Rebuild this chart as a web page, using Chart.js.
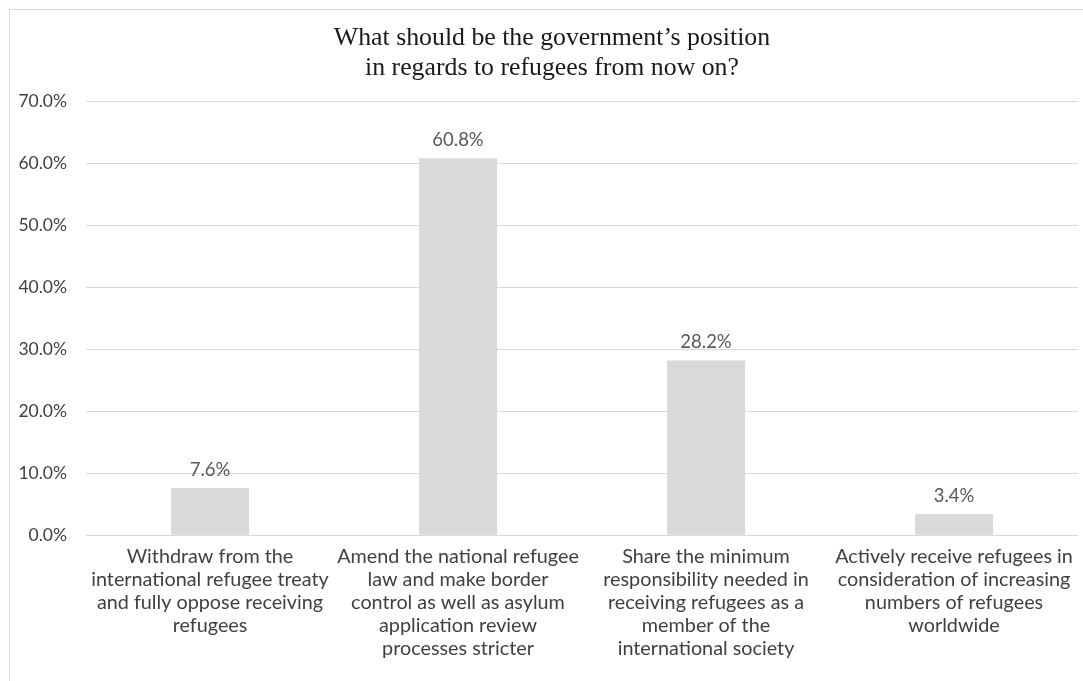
<!DOCTYPE html>
<html>
<head>
<meta charset="utf-8">
<script src="https://cdn.jsdelivr.net/npm/chart.js@4"></script>
<style>
  html, body { margin: 0; padding: 0; background: #fff; overflow: hidden; }
  #wrap { position: absolute; left: 0; top: 0; width: 1104px; height: 681px; }
</style>
</head>
<body>
<div id="wrap"><canvas id="refugeeChart"></canvas></div>
<script>
// Survey answers (x axis)
const categories = [
    ['Withdraw from the', 'international refugee treaty', 'and fully oppose receiving', 'refugees'],
    ['Amend the national refugee', 'law and make border', 'control as well as asylum', 'application review', 'processes stricter'],
    ['Share the minimum', 'responsibility needed in', 'receiving refugees as a', 'member of the', 'international society'],
    ['Actively receive refugees in', 'consideration of increasing', 'numbers of refugees', 'worldwide']
];
// Share of respondents, percent
const shares = [7.6, 60.8, 28.2, 3.4];
const titleLines = ['What should be the government\u2019s position', 'in regards to refugees from now on?'];
const yMin = 0;
const yMax = 70;
const yStep = 10;

// white background + the thin frame round the chart
const framePlugin = {
    id: 'frame',
    beforeDraw: function(chart) {
        const ctx = chart.ctx;
        ctx.save();
        ctx.fillStyle = '#ffffff';
        ctx.fillRect(0, 0, chart.width, chart.height);
        ctx.strokeStyle = '#d9d9d9';
        ctx.lineWidth = 1;
        ctx.strokeRect(9.5, 9.5, chart.width, chart.height);
        ctx.restore();
    }
};

// value labels above each bar
const valueLabels = {
    id: 'valueLabels',
    afterDatasetsDraw: function(chart) {
        const ctx = chart.ctx;
        const meta = chart.getDatasetMeta(0);
        ctx.save();
        ctx.font = '18.5px Lato, "Open Sans", sans-serif';
        ctx.fillStyle = '#595959';
        ctx.textAlign = 'center';
        ctx.textBaseline = 'middle';
        meta.data.forEach(function(bar, i) {
            ctx.fillText(shares[i].toFixed(1) + '%', bar.x, bar.y - 18);
        });
        ctx.restore();
    }
};

const ctx = document.getElementById('refugeeChart').getContext('2d');
new Chart(ctx, {
    type: 'bar',
    data: {
        labels: categories,
        datasets: [{
            data: shares,
            backgroundColor: '#d9d9d9',
            borderWidth: 0,
            categoryPercentage: 1,
            barPercentage: 0.315
        }]
    },
    options: {
        responsive: true,
        maintainAspectRatio: false,
        animation: false,
        layout: {
            padding: { left: 0, right: 0, top: 12, bottom: 19 }
        },
        plugins: {
            legend: { display: false },
            tooltip: { enabled: false },
            title: {
                display: true,
                text: titleLines,
                color: '#1a1a1a',
                font: { family: '"Liberation Serif", "Times New Roman", serif', size: 25.8, weight: 'normal', lineHeight: 1.13 },
                padding: { top: 12, bottom: 19 }
            }
        },
        scales: {
            x: {
                grid: { display: false },
                border: { display: false },
                afterFit: function(scale) {
                    scale.paddingLeft = 0;
                    scale.paddingRight = 26;
                },
                ticks: {
                    autoSkip: false,
                    maxRotation: 0,
                    minRotation: 0,
                    padding: 2,
                    color: '#404040',
                    font: { family: 'Lato, "Open Sans", sans-serif', size: 19.8, lineHeight: 1.16 }
                }
            },
            y: {
                min: yMin,
                max: yMax,
                border: { display: false },
                grid: { color: '#d9d9d9', lineWidth: 1, drawTicks: false },
                afterFit: function(scale) {
                    scale.width = 86;
                },
                ticks: {
                    stepSize: yStep,
                    padding: 19,
                    color: '#404040',
                    font: { family: 'Lato, "Open Sans", sans-serif', size: 17.5 },
                    callback: function(value) {
                        return value.toFixed(1) + '%';
                    }
                }
            }
        }
    },
    plugins: [framePlugin, valueLabels]
});
</script>
</body>
</html>
